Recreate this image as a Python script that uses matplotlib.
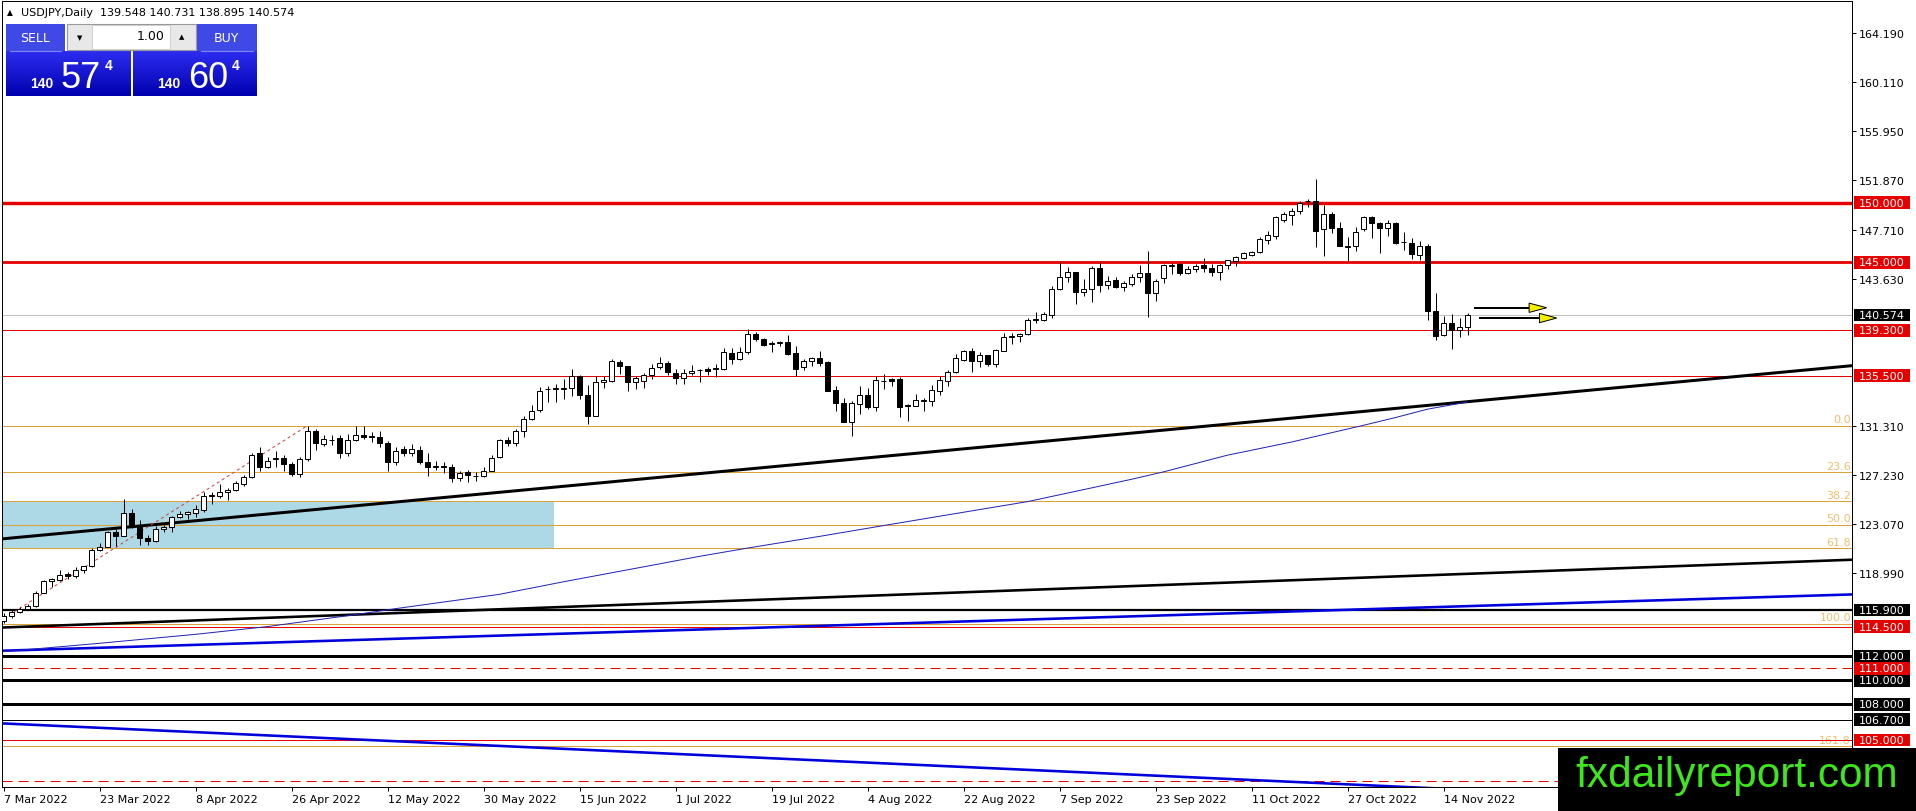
import numpy as np
import matplotlib.pyplot as plt
from matplotlib.patches import Rectangle, Polygon

W, H = 1916, 812

# daily candles, 7 Mar 2022 .. 17 Nov 2022 (one per weekday)
opens = [115.0, 115.35, 115.75, 116.0, 116.2, 117.35, 118.3, 118.4, 118.9, 118.75,
         119.2, 119.55, 120.9, 121.2, 122.44, 122.1, 124.0, 122.95, 121.9, 121.7,
         122.67, 122.8, 123.65, 123.9, 124.0, 124.3, 125.4, 125.4, 125.75, 125.95,
         126.45, 127.05, 129.0, 127.9, 128.5, 128.6, 128.15, 127.3, 128.5, 130.9,
         129.75, 130.1, 130.25, 129.05, 130.15, 130.54, 130.42, 130.4, 129.9, 128.3,
         129.35, 129.05, 129.3, 128.3, 127.9, 127.95, 127.85, 126.9, 127.4, 127.1,
         127.1, 127.55, 128.7, 130.15, 129.9, 130.9, 131.9, 132.6, 134.35, 134.4,
         134.4, 134.45, 135.5, 133.9, 132.15, 134.95, 135.1, 136.65, 136.3, 135.0,
         135.1, 135.55, 136.2, 136.6, 135.75, 135.35, 135.75, 135.95, 136.05, 136.15,
         136.05, 137.4, 136.9, 137.45, 139.0, 138.55, 138.2, 138.25, 138.3, 137.4,
         136.2, 136.7, 136.95, 136.65, 134.3, 133.25, 131.65, 133.15, 133.9, 132.85,
         135.05, 135.2, 135.2, 133.0, 133.0, 133.35, 133.35, 134.25, 135.1, 135.85,
         136.85, 137.55, 136.75, 137.2, 136.5, 137.6, 138.75, 138.8, 139.0, 140.2,
         140.2, 140.6, 142.8, 143.75, 144.15, 142.55, 142.8, 144.55, 143.1, 143.5,
         142.9, 143.2, 143.75, 144.1, 142.4, 143.65, 144.7, 144.85, 144.1, 144.4,
         144.8, 144.55, 144.15, 144.75, 145.1, 145.35, 145.6, 145.85, 146.9, 147.2,
         148.55, 148.95, 149.3, 150.1, 150.15, 147.8, 149.05, 147.9, 146.3, 146.4,
         147.8, 148.75, 148.3, 147.85, 148.25, 146.7, 146.65, 145.6, 146.4, 140.95,
         138.95, 139.9, 139.3, 139.548]
highs = [115.6, 115.85, 116.1, 116.35, 117.5, 118.4, 118.6, 119.26, 119.1, 119.45,
         119.6, 121.1, 121.5, 122.5, 122.65, 125.2, 124.35, 123.4, 122.16, 122.95,
         123.0, 123.78, 124.2, 124.15, 124.68, 125.73, 125.8, 126.43, 126.07, 126.71,
         127.2, 129.03, 129.56, 128.7, 129.2, 128.9, 128.3, 128.7, 131.32, 131.04,
         130.5, 130.5, 130.5, 130.6, 131.25, 131.3, 130.75, 130.85, 130.0, 129.5,
         129.65, 129.8, 129.6, 129.0, 128.4, 128.25, 128.1, 127.55, 127.6, 127.4,
         127.83, 128.9, 130.2, 130.35, 131.04, 132.15, 133.05, 134.53, 134.6, 134.8,
         135.2, 136.06, 135.6, 134.7, 135.45, 135.5, 136.9, 136.84, 136.35, 135.5,
         135.73, 136.48, 137.04, 136.76, 136.06, 136.06, 136.4, 136.06, 136.25, 136.48,
         137.79, 137.79, 137.87, 139.4, 139.2, 138.63, 138.43, 138.43, 138.9, 138.0,
         136.9, 137.04, 137.54, 136.7, 134.67, 133.6, 133.4, 134.67, 134.44, 135.5,
         135.64, 135.31, 135.36, 133.13, 133.97, 133.6, 134.72, 135.5, 136.0, 137.32,
         137.68, 137.79, 137.46, 137.23, 137.73, 139.07, 139.07, 139.07, 140.3, 140.86,
         140.8, 143.04, 145.0, 144.57, 144.2, 143.6, 144.7, 144.99, 143.82, 143.74,
         143.45, 144.0, 144.77, 145.9, 143.6, 144.85, 144.93, 144.93, 144.71, 144.85,
         145.33, 144.85, 144.85, 145.21, 145.49, 145.88, 145.97, 147.08, 147.64, 148.84,
         149.18, 149.51, 150.15, 150.29, 151.95, 149.79, 149.18, 148.34, 147.08, 147.92,
         148.84, 148.84, 148.4, 148.56, 148.4, 147.56, 147.0, 146.8, 146.53, 142.45,
         140.47, 140.67, 140.3, 140.731]
lows = [114.8, 115.25, 115.65, 115.85, 116.15, 117.3, 117.8, 118.34, 118.5, 118.55,
        119.0, 119.5, 120.8, 121.13, 121.25, 122.05, 122.75, 121.33, 121.33, 121.55,
        122.4, 122.45, 123.55, 123.5, 123.65, 124.06, 124.8, 125.3, 125.1, 125.82,
        126.3, 126.94, 127.55, 127.8, 127.9, 127.55, 127.1, 127.0, 128.4, 129.3,
        129.65, 129.7, 128.6, 128.75, 130.06, 130.2, 129.92, 129.5, 127.55, 128.0,
        128.75, 128.8, 128.1, 127.1, 127.63, 127.35, 126.57, 126.7, 126.57, 126.65,
        127.0, 127.5, 128.6, 129.64, 129.64, 130.4, 131.82, 132.5, 133.3, 133.3,
        133.55, 133.83, 133.55, 131.46, 132.1, 134.5, 134.95, 135.64, 134.25, 134.4,
        134.47, 135.2, 136.06, 135.56, 134.8, 134.8, 135.56, 135.0, 135.56, 135.36,
        136.0, 136.48, 136.84, 137.3, 138.43, 137.96, 137.46, 138.0, 137.23, 135.5,
        136.0, 136.3, 136.34, 134.2, 132.57, 131.6, 130.42, 132.3, 132.71, 132.57,
        134.4, 134.67, 132.07, 131.74, 132.93, 132.57, 132.99, 133.88, 134.67, 135.73,
        136.76, 135.84, 136.2, 136.34, 136.26, 137.54, 138.15, 138.29, 138.93, 139.9,
        140.1, 140.3, 142.7, 143.32, 141.5, 142.15, 141.64, 142.53, 142.76, 142.82,
        142.62, 142.98, 143.37, 140.4, 141.78, 143.26, 144.0, 143.9, 144.01, 144.2,
        144.15, 143.88, 143.54, 144.43, 144.66, 145.27, 145.55, 145.77, 146.52, 146.94,
        148.4, 148.12, 149.04, 149.6, 146.25, 145.55, 147.45, 146.33, 145.13, 145.97,
        147.64, 147.0, 145.77, 147.17, 146.53, 146.05, 145.27, 145.2, 140.2, 138.5,
        138.85, 137.74, 138.71, 138.895]
closes = [115.4, 115.75, 115.95, 116.2, 117.35, 118.3, 118.45, 118.85, 118.7, 119.25,
          119.55, 120.9, 121.2, 122.4, 122.1, 124.0, 122.95, 121.9, 121.7, 122.65,
          122.8, 123.65, 123.9, 124.05, 124.35, 125.4, 125.5, 125.8, 125.9, 126.5,
          127.05, 128.9, 127.9, 128.4, 128.65, 128.15, 127.3, 128.5, 130.85, 129.85,
          130.2, 130.15, 129.05, 130.15, 130.55, 130.34, 130.38, 129.9, 128.3, 129.2,
          129.05, 129.33, 128.3, 127.9, 127.92, 127.85, 126.9, 127.35, 127.2, 127.12,
          127.55, 128.65, 130.15, 129.9, 130.85, 131.9, 132.55, 134.25, 134.4, 134.45,
          134.45, 135.45, 133.85, 132.15, 134.95, 135.15, 136.7, 136.3, 134.95, 135.3,
          135.55, 136.15, 136.6, 135.8, 135.3, 135.75, 135.9, 136.0, 135.93, 136.05,
          137.45, 136.9, 137.45, 139.0, 138.6, 138.1, 138.18, 138.35, 137.35, 136.1,
          136.75, 136.95, 136.55, 134.25, 133.25, 131.65, 133.2, 133.9, 132.85, 135.15,
          135.1, 135.08, 132.9, 133.02, 133.45, 133.49, 134.3, 135.15, 135.85, 136.95,
          137.55, 136.75, 137.2, 136.5, 137.65, 138.7, 138.8, 139.0, 140.2, 140.25,
          140.65, 142.8, 143.75, 144.15, 142.55, 142.8, 144.55, 143.1, 143.45, 142.9,
          143.25, 143.75, 144.1, 142.4, 143.4, 144.75, 144.75, 144.1, 144.45, 144.7,
          144.5, 144.15, 144.75, 145.15, 145.4, 145.75, 145.85, 146.95, 147.3, 148.75,
          149.05, 149.3, 150.0, 150.15, 147.65, 149.05, 147.9, 146.4, 146.4, 147.5,
          148.75, 148.25, 147.85, 148.25, 146.65, 146.7, 145.7, 146.4, 140.95, 138.8,
          139.9, 139.35, 139.55, 140.574]

date_ticks = [0, 12, 24, 36, 48, 60, 72, 84, 96, 108, 120, 132, 144, 156, 168, 180]
date_labels = ['7 Mar 2022', '23 Mar 2022', '8 Apr 2022', '26 Apr 2022', '12 May 2022',
               '30 May 2022', '15 Jun 2022', '1 Jul 2022', '19 Jul 2022', '4 Aug 2022',
               '22 Aug 2022', '7 Sep 2022', '23 Sep 2022', '11 Oct 2022', '27 Oct 2022',
               '14 Nov 2022']
price_ticks = [164.19, 160.11, 155.95, 151.87, 147.71, 143.63, 131.31, 127.23, 123.07, 118.99]

# horizontal levels
red_lines = [150.0, 145.0, 139.3, 135.5, 114.5, 105.0]
red_dashed = [111.0, 101.6]
black_lines = [115.9, 112.0, 110.0, 108.0, 106.7]
last_price = 140.574
red_tags = [150.0, 145.0, 139.3, 135.5, 114.5, 111.0, 105.0]
black_tags = [140.574, 115.9, 112.0, 110.0, 108.0, 106.7]

# fibonacci retracement
fib_levels = [131.32, 127.41, 124.99, 123.03, 121.07, 114.74, 104.49]
fib_names = ['0.0', '23.6', '38.2', '50.0', '61.8', '100.0', '161.8']
fib_diag_bars = [-1, 38]
fib_diag_prices = [114.74, 131.32]

# trend lines (bar index -> price)
trend_bars = [-1, 232]
black_tl_1 = [121.79, 136.40]
black_tl_2 = [114.40, 120.12]
blue_tl_up = [112.46, 117.21]
blue_tl_down = [106.42, 99.35]

# moving average (thin blue)
ma_bars = [0, 12, 24, 33, 44, 49, 62, 70, 80, 87, 93, 102, 112, 119, 128, 134, 141,
           145, 153, 161, 170, 174, 178, 183]
ma_vals = [112.4, 113.1, 113.85, 114.5, 115.5, 116.0, 117.2, 118.25, 119.5, 120.38,
           121.07, 122.05, 123.18, 123.96, 124.96, 125.82, 126.83, 127.45, 128.85,
           129.95, 131.35, 132.0, 132.7, 133.3]

zone_bars = [-1, 68.8]
zone_prices = [121.07, 124.99]

arrow_start = [183.9, 184.6]
arrow_base = [190.7, 192.0]
arrow_tip = [192.9, 194.15]
arrow_prices = [141.19, 140.33]

RED = '#e60000'
FIB = '#dca236'
PX = 0.72  # points per pixel at dpi 100

fig = plt.figure(figsize=(W / 100, H / 100), dpi=100)
fig.patch.set_facecolor('white')
x0, x1, y0, y1 = 2, 1852, 2, 788
ax = fig.add_axes([x0 / W, 1 - y1 / H, (x1 - x0) / W, (y1 - y0) / H])
ax.set_xlim((x0 - 3.5) / 8, (x1 - 3.5) / 8)
ax.set_ylim(101.07, 166.87)

ax.add_patch(Rectangle((zone_bars[0], zone_prices[0]), zone_bars[1] - zone_bars[0],
                       zone_prices[1] - zone_prices[0], fc='#add8e6', ec='none', zorder=0))

for v in fib_levels:
    ax.axhline(v, color=FIB, lw=1 * PX, zorder=1)
ytr = ax.get_yaxis_transform()
for v, name in zip(fib_levels, fib_names):
    ax.text((x1 - x0 - 1) / (x1 - x0), v + 0.12, name, transform=ytr, ha='right', va='bottom',
            fontsize=8, color='#f0be6e', zorder=1)

for v in red_lines:
    lw = {150.0: 3.4, 145.0: 2.8}.get(v, 1.0)
    ax.axhline(v, color=RED, lw=lw * PX, zorder=2)
for v in red_dashed:
    ax.axhline(v, color=RED, lw=1 * PX, ls=(0, (10, 6)), zorder=2)
for v in black_lines:
    lw = {115.9: 2.2, 106.7: 1.0}.get(v, 3.0)
    ax.axhline(v, color='black', lw=lw * PX, zorder=2)
ax.axhline(last_price, color='#c0c0c0', lw=1 * PX, zorder=1)

ax.plot(trend_bars, black_tl_1, color='black', lw=3 * PX, zorder=2)
ax.plot(trend_bars, black_tl_2, color='black', lw=2.6 * PX, zorder=2)
ax.plot(trend_bars, blue_tl_up, color='#0000dc', lw=2.6 * PX, zorder=2)
ax.plot(trend_bars, blue_tl_down, color='#0000dc', lw=2.6 * PX, zorder=2)
ax.plot(ma_bars, ma_vals, color='#2323b8', lw=1 * PX, zorder=2)
ax.plot(fib_diag_bars, fib_diag_prices, color='#d04040', lw=1 * PX, ls=(0, (3, 3)), zorder=2)

# candles
for i, (o, h, l, c) in enumerate(zip(opens, highs, lows, closes)):
    ax.vlines(i, l, h, color='black', lw=1 * PX, zorder=4)
    fc = 'white' if c >= o else 'black'
    ax.add_patch(Rectangle((i - 0.31, min(o, c)), 0.62, abs(c - o), fc=fc, ec='black',
                           lw=1 * PX, zorder=5))

# arrows
for s, b, t, p in zip(arrow_start, arrow_base, arrow_tip, arrow_prices):
    ax.plot([s, b], [p, p], color='black', lw=2 * PX, zorder=6)
    ax.add_patch(Polygon([[b, p + 0.39], [t, p], [b, p - 0.39]], closed=True,
                         fc='#f5f000', ec='black', lw=1 * PX, zorder=6))

# axes styling
for sp in ax.spines.values():
    sp.set_linewidth(1 * PX)
ax.yaxis.tick_right()
ax.set_yticks(price_ticks, labels=[f'{v:.3f}' for v in price_ticks])
ax.tick_params(axis='y', length=4 * PX, width=1 * PX, pad=3 * PX, labelsize=8)
ax.set_xticks(date_ticks, labels=date_labels, ha='left')
ax.tick_params(axis='x', length=4 * PX, width=1 * PX, pad=3 * PX, labelsize=8)

# price tags on the right
bw = (1910 - 1854) / (x1 - x0)
bx = (1854 - x0) / (x1 - x0)
half = 6.3 / 11.945
for tags, col in ((black_tags, 'black'), (red_tags, RED)):
    for v in tags:
        ax.add_patch(Rectangle((bx, v - half), bw, 2 * half, transform=ytr, fc=col,
                               ec='none', clip_on=False, zorder=7))
        ax.text(bx + bw / 2, v, f'{v:.3f}', transform=ytr, ha='center', va='center',
                fontsize=8, color='white', clip_on=False, zorder=8)

# overlay in pixel coordinates: header, trade panel, watermark
ui = fig.add_axes([0, 0, 1, 1])
ui.axis('off')
ui.patch.set_alpha(0)

ui.text(9.5, 13, '\u25b2', fontsize=5.5, ha='center', va='center')
ui.text(21, 13, 'USDJPY,Daily  %.3f %.3f %.3f %.3f' % (opens[-1], highs[-1], lows[-1], closes[-1]),
        fontsize=8, ha='left', va='center')

grad = np.linspace(0, 1, 60)[:, None, None]
top_c = np.array([45, 45, 240]) / 255
bot_c = np.array([0, 0, 175]) / 255
img = top_c + (bot_c - top_c) * grad
for gx0, gx1 in ((6, 131), (133, 257)):
    ui.imshow(img, extent=(gx0, gx1, 97, 52), aspect='auto', interpolation='bilinear', zorder=2)
for bx0, bx1 in ((6, 65), (197, 257)):
    ui.add_patch(Rectangle((bx0, 25), bx1 - bx0, 27, fc='#3f4ae6', ec='none', zorder=3))
    ui.plot([bx0 + 4, bx1 - 4], [51.5, 51.5], color='#8088f0', lw=0.8, zorder=4)
ui.add_patch(Rectangle((67, 25), 129, 26, fc='#e8e8e8', ec='#9a9a9a', lw=0.8, zorder=3))
ui.add_patch(Rectangle((92, 26), 78, 24, fc='white', ec='#c8c8c8', lw=0.6, zorder=4))
ui.text(35, 38, 'SELL', color='white', fontsize=9, ha='center', va='center', zorder=5)
ui.text(226, 38, 'BUY', color='white', fontsize=9, ha='center', va='center', zorder=5)
ui.text(165, 37, '1.00', color='black', fontsize=9, ha='right', va='center', zorder=5)
ui.text(80, 38, '\u25bc', fontsize=5, ha='center', va='center', zorder=5)
ui.text(182, 37, '\u25b2', fontsize=5, ha='center', va='center', zorder=5)
for bx0, big in ((30, '57'), (157, '60')):
    ui.text(bx0, 88, '140', color='white', fontsize=10, fontweight='bold', ha='left',
            va='baseline', family='Liberation Sans', zorder=5)
    ui.text(bx0 + 31, 88, big, color='white', fontsize=26, ha='left', va='baseline',
            family='Liberation Sans', zorder=5)
    ui.text(bx0 + 75, 70, '4', color='white', fontsize=10, fontweight='bold', ha='left',
            va='baseline', family='Liberation Sans', zorder=5)

ui.add_patch(Rectangle((1558, 749), W - 1558, H - 749, fc='black', ec='none', zorder=6))
ui.text(1737, 776, 'fxdailyreport.com', color='#3ee61e', fontsize=30.5, ha='center',
        va='center', family='Liberation Sans', zorder=7)

ui.set_xlim(0, W)
ui.set_ylim(H, 0)

fig.savefig('out.png', dpi=100)
